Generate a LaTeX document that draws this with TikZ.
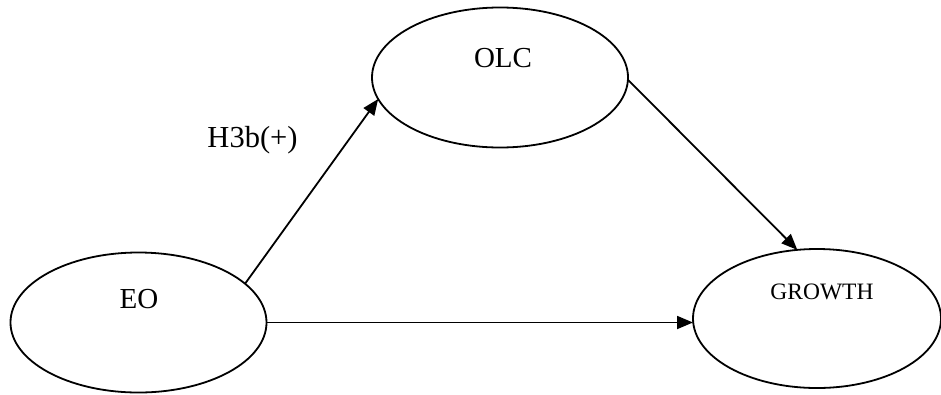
\documentclass[tikz,border=0pt]{standalone}
\usepackage{fontspec}
\setmainfont{Liberation Serif}
\usetikzlibrary{shapes.geometric,arrows.meta}
\begin{document}
\begin{tikzpicture}[x=1pt,y=-1pt,
  oval/.style={draw,ellipse,line width=1.8pt,inner sep=0pt,outer sep=0pt,minimum width=256pt,minimum height=140pt},
  conn/.style={line width=1.8pt,-{Triangle[length=16pt,width=13pt]}},
  lbl/.style={font=\fontsize{29}{32}\selectfont,inner sep=0pt,anchor=base}]
\useasboundingbox (0,0) rectangle (941,394);
\node[oval] (olc) at (500,77.5) {};
\node[oval] (eo) at (138.5,322.5) {};
\node[oval,minimum width=248pt,minimum height=139pt] (growth) at (817,318.5) {};
\node[lbl] (tolc) at (503,67) {OLC};
\node[lbl] (teo) at (139,308) {EO};
\node[lbl,font=\fontsize{23.5}{27}\selectfont] (tgr) at (822,299) {GROWTH};
\node[lbl,font=\fontsize{30.5}{33}\selectfont] (h3b) at (252.5,147) {H3b(+)};
\draw[conn] (eo.20) -- (olc.190);
\draw[conn] (olc.359) -- (growth.106);
\draw[conn] (eo.east) -- (eo.east -| growth.west);
\end{tikzpicture}
\end{document}
